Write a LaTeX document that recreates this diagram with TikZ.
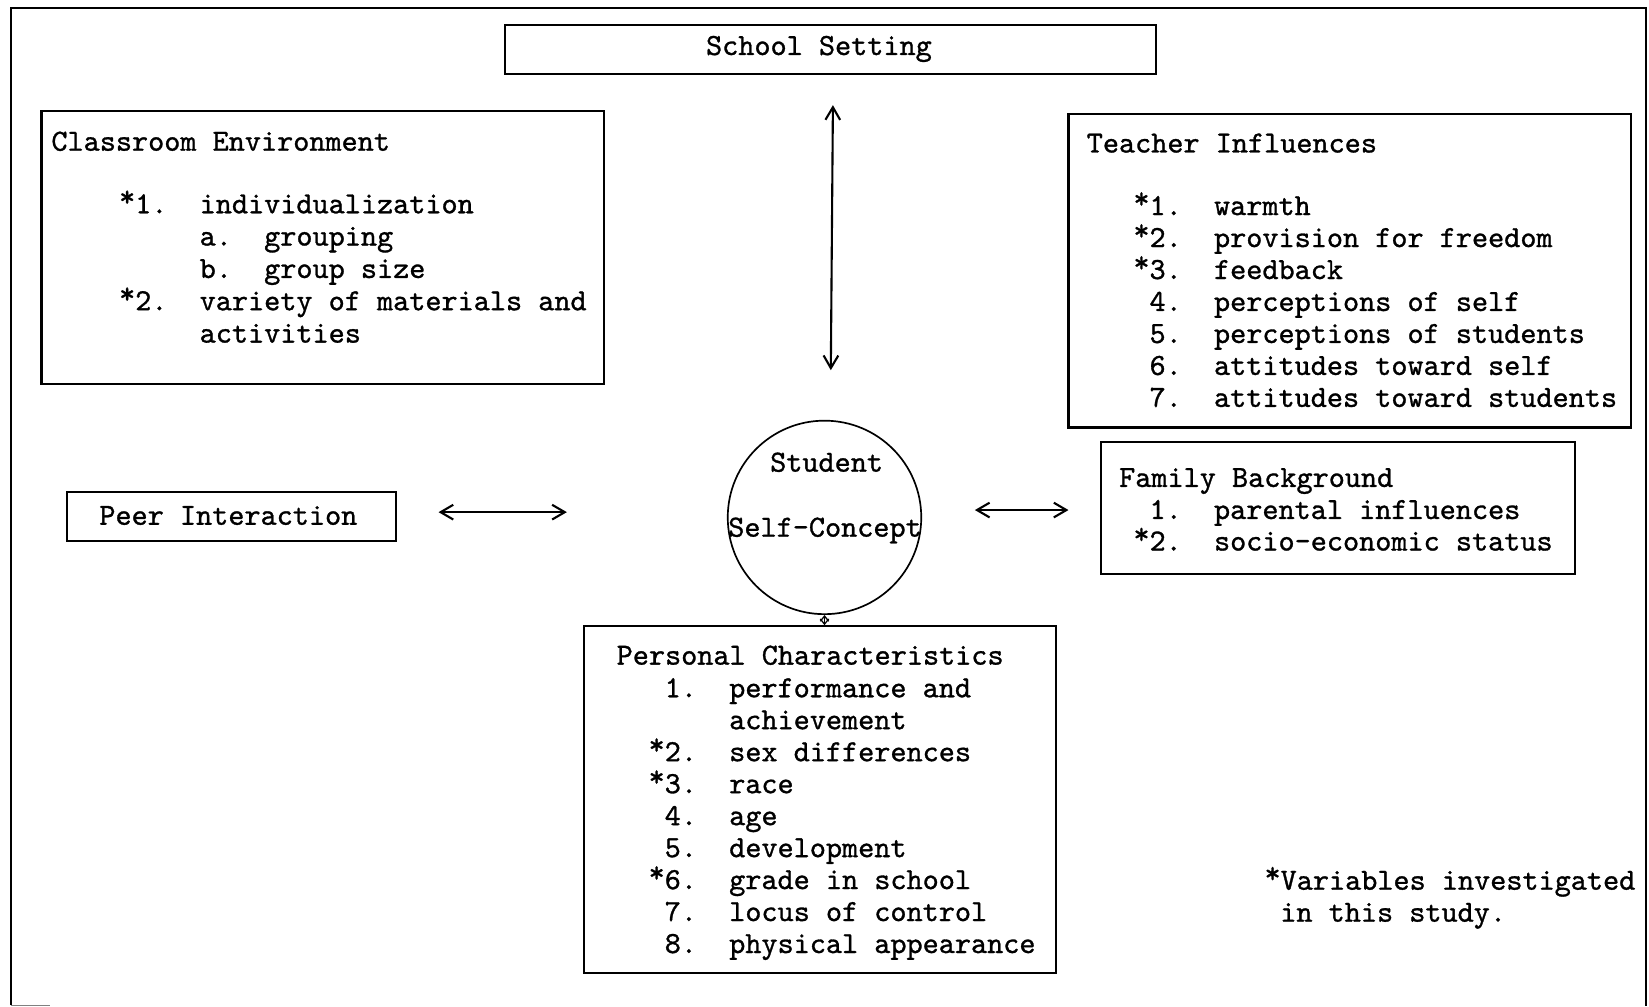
\documentclass[tikz,border=0pt]{standalone}
\usepackage{fontspec}
\setmonofont{lmmono10-regular.otf}[FakeBold=1]
\usetikzlibrary{arrows.meta}
\newcommand{\fs}{\fontsize{14.6}{15}\selectfont\ttfamily}
\newcommand{\st}{\hbox to 0.525em{\hss\raisebox{0.22em}{*}}}
\tikzset{
  box/.style={draw, line width=1pt, inner sep=0pt, anchor=north west},
  ln/.style={anchor=base west, inner sep=0pt, font=\fs},
  ar/.style={line width=1pt, {Straight Barb[length=6pt,width=7pt]}-{Straight Barb[length=6pt,width=7pt]}},
  frame/.style={line width=1.2pt},
}
\begin{document}
\begin{tikzpicture}[x=0.5pt, y=-0.5pt]
\useasboundingbox (0,0) rectangle (1568,957);
% outer frame
\coordinate (f1) at (10.5,956);
\coordinate (f2) at (10.5,7.5);
\coordinate (f3) at (1565,7.5);
\coordinate (f4) at (1565,957);
\coordinate (f5) at (48,956);
\draw[frame] (f1) -- (f2) -- (f3) -- (f4);
\draw[line width=0.5pt, gray] (f1) -- (f5);

% boxes
\node[box, minimum width=309.5pt, minimum height=23pt] (school) at (479,23) {};
\node[box, minimum width=267.25pt, minimum height=130pt] (class) at (38.5,104.5) {};
\node[box, minimum width=267.5pt, minimum height=149.25pt] (teach) at (1015,107) {};
\node[box, minimum width=225.25pt, minimum height=62.5pt] (fam) at (1046,419.5) {};
\node[box, minimum width=156.35pt, minimum height=23.1pt] (peer) at (62.5,466.8) {};
\node[box, minimum width=224.25pt, minimum height=164.75pt] (pers) at (554.5,594.5) {};
\node[circle, draw, line width=0.8pt, minimum size=92pt, inner sep=0pt] (self) at (784,492) {};

% texts
\node[ln] (tschool) at (671,52.3) {School Setting};

\node[ln] (ce0) at (48.5,143.3) {Classroom Environment};
\node[ln] (ce1) at (112.85,202.8) {\st1.~~individualization};
\node[ln] (ce2) at (189.5,233.5) {a.~~grouping};
\node[ln] (ce3) at (189.5,264.3) {b.~~group size};
\node[ln] (ce4) at (112.85,295) {\st2.~~variety of materials and};
\node[ln] (ce5) at (189.5,325.8) {activities};

\node[ln] (ti0) at (1033,145) {Teacher Influences};
\node[ln] (ti1) at (1077.35,204.5) {\st1.~~warmth};
\node[ln] (ti2) at (1077.35,234.9) {\st2.~~provision for freedom};
\node[ln] (ti3) at (1077.35,265.3) {\st3.~~feedback};
\node[ln] (ti4) at (1077.35,295.7) {~4.~~perceptions of self};
\node[ln] (ti5) at (1077.35,326.1) {~5.~~perceptions of students};
\node[ln] (ti6) at (1077.35,356.5) {~6.~~attitudes toward self};
\node[ln] (ti7) at (1077.35,386.9) {~7.~~attitudes toward students};

\node[ln] (fb0) at (1063.8,463) {Family Background};
\node[ln] (fb1) at (1077.35,493.5) {~1.~~parental influences};
\node[ln] (fb2) at (1077.35,523.5) {\st2.~~socio-economic status};

\node[ln] (tpeer) at (94.1,499) {Peer Interaction};

\node[ln, anchor=base] (sc1) at (786,448.5) {Student};
\node[ln, anchor=base] (sc2) at (784.5,510.3) {Self-Concept};

\node[ln] (pc0) at (586,632) {Personal Characteristics};
\node[ln] (pc1) at (616.35,663) {~1.~~performance and};
\node[ln] (pc2) at (693,693.4) {achievement};
\node[ln] (pc3) at (616.35,723.8) {\st2.~~sex differences};
\node[ln] (pc4) at (616.35,754.2) {\st3.~~race};
\node[ln] (pc5) at (616.35,784.6) {~4.~~age};
\node[ln] (pc6) at (616.35,815) {~5.~~development};
\node[ln] (pc7) at (616.35,845.4) {\st6.~~grade in school};
\node[ln] (pc8) at (616.35,875.8) {~7.~~locus of control};
\node[ln] (pc9) at (616.35,906.2) {~8.~~physical appearance};

\node[ln] (fn1) at (1202,846) {\st Variables investigated};
\node[ln] (fn2) at (1217,876.4) {in this study.};

% arrows
\coordinate (vt) at (792,100);
\coordinate (vb) at (790,352);
\draw[ar] (vt) -- (vb);
\coordinate (la) at (417,487);
\coordinate (lb) at (539,487);
\draw[ar] (la) -- (lb);
\coordinate (ra) at (927,485);
\coordinate (rb) at (1016,485);
\draw[ar] (ra) -- (rb);
\draw[line width=0.6pt, {Straight Barb[length=2.5pt,width=4pt]}-{Straight Barb[length=2.5pt,width=4pt]}] (self.south) -- (self.south |- pers.north);
\end{tikzpicture}
\end{document}
